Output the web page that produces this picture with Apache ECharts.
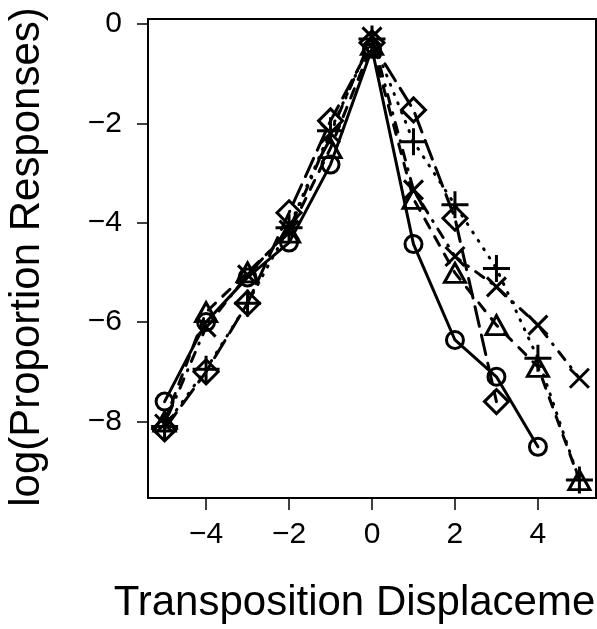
<!DOCTYPE html>
<html>
<head>
<meta charset="utf-8">
<script src="https://cdn.jsdelivr.net/npm/echarts@6/dist/echarts.min.js"></script>
<style>
html,body{margin:0;padding:0;background:#fff;}
#chart{width:597px;height:629px;}
</style>
</head>
<body>
<div id="chart"></div>
<script>
// Data
const xs = [-5, -4, -3, -2, -1, 0, 1, 2, 3, 4, 5];
const circleY   = [-7.60, -6.00, -5.10, -4.40, -2.83, -0.50, -4.43, -6.36, -7.10, -8.51, null];
const triangleY = [-8.00, -5.80, -5.00, -4.20, -2.50, -0.42, -3.52, -5.01, -6.06, -6.90, -9.18];
const plusY     = [-8.10, -6.95, -5.62, -4.10, -2.15, -0.30, -2.37, -3.64, -4.92, -6.73, -9.18];
const crossY    = [-8.05, -6.10, -5.05, -4.15, -2.20, -0.26, -3.34, -4.68, -5.29, -6.06, -7.13];
const diamondY  = [-8.15, -7.00, -5.62, -3.80, -1.95, -0.38, -1.73, -3.91, -7.60, null, null];
const xTicks = [-4, -2, 0, 2, 4];
const yTicks = [-8, -6, -4, -2, 0];
const xTitle = 'Transposition Displacement';
const yTitle = 'log(Proportion Responses)';

const FONT = '"Liberation Sans", Arial, Helvetica, sans-serif';
function pairs(ys) {
  const out = [];
  xs.forEach((x, i) => { if (ys[i] !== null) out.push([x, ys[i]]); });
  return out;
}
const fmt = v => String(v).replace('-', '\u2212');

const seriesDefs = [
  { ys: circleY,   symbol: 'circle',   size: 17,       dash: 'solid' },
  { ys: triangleY, symbol: 'triangle', size: [21, 19], dash: [10, 10] },
  { ys: plusY,     symbol: 'path://M0,5 L10,5 M5,0 L5,10', size: 27, dash: [1, 9] },
  { ys: crossY,    symbol: 'path://M0,0 L10,10 M10,0 L0,10', size: 19, dash: [1, 9, 10, 9] },
  { ys: diamondY,  symbol: 'diamond',  size: 24,       dash: [20, 9] }
];

const chart = echarts.init(document.getElementById('chart'), null, { renderer: 'canvas' });
chart.setOption({
  animation: false,
  backgroundColor: '#fff',
  grid: { left: 148, right: 1, top: 19, bottom: 131, show: true, borderColor: '#000', borderWidth: 2, backgroundColor: 'transparent' },
  xAxis: {
    type: 'value', min: -5.4, max: 5.4,
    axisLine: { show: false, onZero: false },
    splitLine: { show: false },
    axisTick: { show: true, inside: false, length: 12, lineStyle: { color: '#000', width: 1.5 }, customValues: xTicks },
    axisLabel: { margin: 22, fontSize: 30, color: '#000', fontFamily: FONT, customValues: xTicks, formatter: fmt }
  },
  yAxis: {
    type: 'value', min: -9.54, max: 0.1,
    axisLine: { show: false, onZero: false },
    splitLine: { show: false },
    axisTick: { show: true, inside: false, length: 11, lineStyle: { color: '#000', width: 1.5 }, customValues: yTicks },
    axisLabel: { margin: 26, fontSize: 30, color: '#000', fontFamily: FONT, customValues: yTicks, formatter: fmt }
  },
  graphic: [
    { type: 'text', position: [372, 603], style: { text: xTitle, font: '42px ' + FONT, fill: '#000', textAlign: 'center', textVerticalAlign: 'middle' } },
    { type: 'text', position: [27, 257], rotation: Math.PI / 2, style: { text: yTitle, font: '42px ' + FONT, fill: '#000', textAlign: 'center', textVerticalAlign: 'middle' } }
  ],
  series: seriesDefs.map(d => ({
    type: 'line',
    data: pairs(d.ys),
    symbol: d.symbol,
    symbolSize: d.size,
    showSymbol: true,
    showAllSymbol: true,
    clip: false,
    lineStyle: { color: '#000', width: 3, type: d.dash, cap: 'round' },
    itemStyle: { color: 'rgba(0,0,0,0)', borderColor: '#000', borderWidth: 3 },
    emphasis: { disabled: true }
  }))
});
</script>
</body>
</html>
